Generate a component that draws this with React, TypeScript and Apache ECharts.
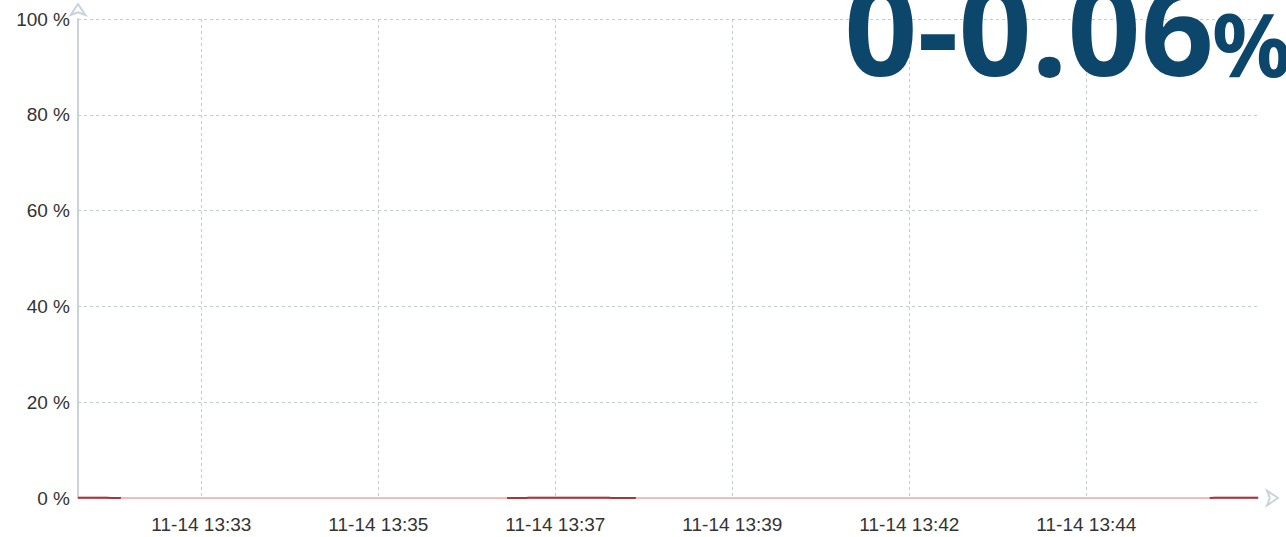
import React, { useEffect, useRef } from "react";
import * as echarts from "echarts";

// time categories: start time and sampling step (seconds)
const startTime = "2023-11-14T13:31:44";
const stepSeconds = 4;
const pointCount = 221;

const yTicks = [0, 20, 40, 60, 80, 100];

// usage values in %
const usage = [
  0.05, 0.05, 0.05, 0.05, 0.05, 0.04, 0.02, 0.01, 0, 0,
  0, 0, 0, 0, 0, 0, 0, 0, 0, 0,
  0, 0, 0, 0, 0, 0, 0, 0, 0, 0,
  0, 0, 0, 0, 0, 0, 0, 0, 0, 0,
  0, 0, 0, 0, 0, 0, 0, 0, 0, 0,
  0, 0, 0, 0, 0, 0, 0, 0, 0, 0,
  0, 0, 0, 0, 0, 0, 0, 0, 0, 0,
  0, 0, 0, 0, 0, 0, 0, 0, 0, 0,
  0, 0.005, 0.01, 0.02, 0.03, 0.04, 0.05, 0.05, 0.06, 0.06,
  0.06, 0.06, 0.06, 0.06, 0.06, 0.06, 0.05, 0.05, 0.04, 0.03,
  0.02, 0.015, 0.01, 0.005, 0, 0, 0, 0, 0, 0,
  0, 0, 0, 0, 0, 0, 0, 0, 0, 0,
  0, 0, 0, 0, 0, 0, 0, 0, 0, 0,
  0, 0, 0, 0, 0, 0, 0, 0, 0, 0,
  0, 0, 0, 0, 0, 0, 0, 0, 0, 0,
  0, 0, 0, 0, 0, 0, 0, 0, 0, 0,
  0, 0, 0, 0, 0, 0, 0, 0, 0, 0,
  0, 0, 0, 0, 0, 0, 0, 0, 0, 0,
  0, 0, 0, 0, 0, 0, 0, 0, 0, 0,
  0, 0, 0, 0, 0, 0, 0, 0, 0, 0,
  0, 0, 0, 0, 0, 0, 0, 0, 0, 0,
  0, 0, 0.03, 0.04, 0.04, 0.04, 0.04, 0.04, 0.04, 0.04,
  0.04,
];

const rangeText = "0-0.06";
const rangeUnit = "%";

const pad = (n: number) => (n < 10 ? "0" + n : "" + n);

function buildCategories(): string[] {
  const base = new Date(startTime).getTime();
  const out: string[] = [];
  for (let i = 0; i < pointCount; i++) {
    const d = new Date(base + i * stepSeconds * 1000);
    out.push(
      `${pad(d.getMonth() + 1)}-${pad(d.getDate())} ${pad(d.getHours())}:${pad(
        d.getMinutes()
      )}:${pad(d.getSeconds())}`
    );
  }
  return out;
}

const categories = buildCategories();
const showIdx = (i: number) => i % 33 === 23;
// segments where usage is visible (non-zero) are drawn darker on top
const usageHigh = usage.map((v, i) =>
  v > 0 || (usage[i - 1] ?? 0) > 0 || (usage[i + 1] ?? 0) > 0 ? v : null
);

export default function App() {
  const ref = useRef<HTMLDivElement>(null);
  useEffect(() => {
    document.body.style.margin = "0";
    if (!ref.current) return;
    const chart = echarts.init(ref.current, undefined, { renderer: "svg" });
    const axisColor = "#cad3db";
    const splitColor = "#c3cbd1";
    chart.setOption({
      animation: false,
      grid: { left: 78, right: 28, top: 19, bottom: 39, containLabel: false },
      xAxis: {
        type: "category",
        data: categories,
        boundaryGap: false,
        axisLine: {
          lineStyle: { color: axisColor, width: 2 },
          symbol: ["none", "emptyArrow"],
          symbolSize: [11, 11],
          symbolOffset: [0, 20],
        },
        axisTick: { show: false },
        axisLabel: {
          interval: showIdx,
          color: "#333",
          fontSize: 19,
          fontFamily: "Liberation Sans, Arial, sans-serif",
          margin: 17,
          formatter: (v: string) => v.slice(0, 11),
        },
        splitLine: {
          show: true,
          interval: showIdx,
          lineStyle: { color: splitColor, type: [3, 3], width: 1 },
        },
      },
      yAxis: {
        type: "value",
        min: yTicks[0],
        max: yTicks[yTicks.length - 1],
        interval: 20,
        axisLine: {
          show: true,
          lineStyle: { color: axisColor, width: 2 },
          symbol: ["none", "emptyArrow"],
          symbolSize: [11, 11],
          symbolOffset: [0, 15],
        },
        axisTick: { show: false },
        axisLabel: {
          color: "#333",
          fontSize: 19,
          fontFamily: "Liberation Sans, Arial, sans-serif",
          margin: 8,
          formatter: "{value} %",
        },
        splitLine: {
          show: true,
          lineStyle: { color: splitColor, type: [3, 3], width: 1 },
        },
      },
      series: [
        {
          type: "line",
          data: usage,
          smooth: true,
          showSymbol: false,
          lineStyle: { width: 2, color: "#f7b9b9" },
          z: 3,
        },
        {
          type: "line",
          data: usageHigh,
          smooth: true,
          showSymbol: false,
          connectNulls: false,
          lineStyle: { width: 2, color: "#a8353a" },
          z: 4,
        },
      ],
      graphic: [
        {
          type: "text",
          z: 100,
          style: {
            text: rangeText,
            x: 1214,
            y: 90,
            align: "right",
            verticalAlign: "bottom",
            font: 'bold 128px "Noto Sans"',
            fill: "#0c466b",
          },
        },
        {
          type: "text",
          z: 100,
          style: {
            text: rangeUnit,
            x: 1212,
            y: 87,
            align: "left",
            verticalAlign: "bottom",
            font: 'bold 88px "Noto Sans"',
            fill: "#0c466b",
          },
        },
      ],
    });
    return () => chart.dispose();
  }, []);
  return <div ref={ref} style={{ width: 1286, height: 537 }} />;
}
